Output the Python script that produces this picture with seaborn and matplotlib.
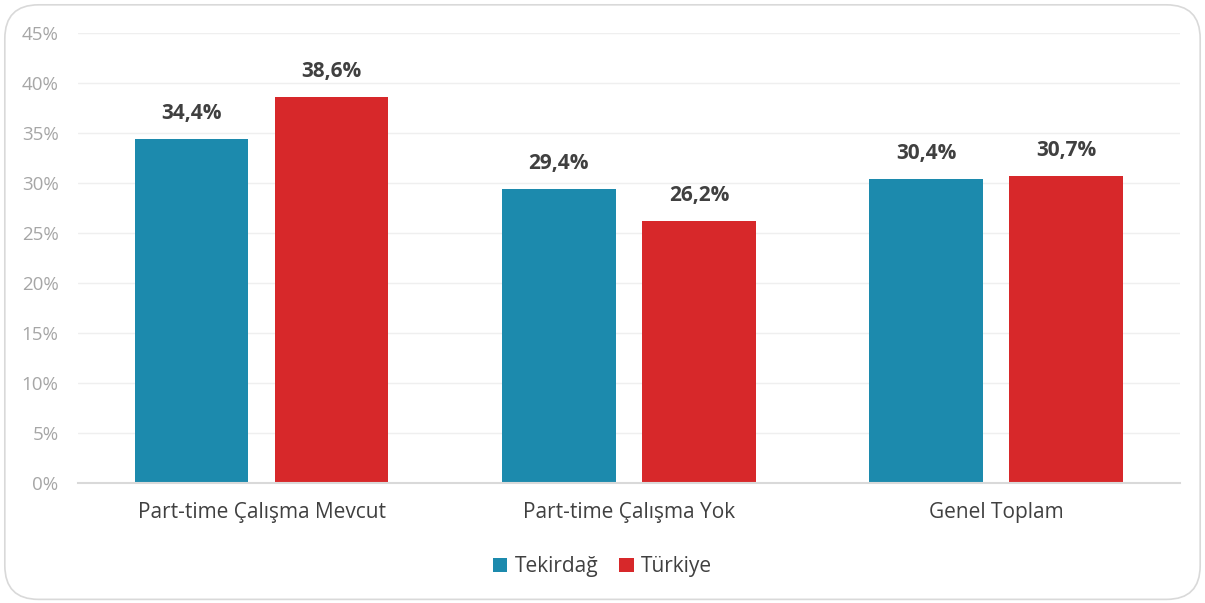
import matplotlib
matplotlib.use("Agg")
import matplotlib.pyplot as plt
from matplotlib.patches import FancyBboxPatch, Patch
import seaborn as sns
import pandas as pd

# data
categories = ["Part-time Çalışma Mevcut", "Part-time Çalışma Yok", "Genel Toplam"]
series_names = ["Tekirdağ", "Türkiye"]
tekirdag = [34.4, 29.4, 30.4]
turkiye = [38.6, 26.2, 30.7]
y_ticks = [0, 5, 10, 15, 20, 25, 30, 35, 40, 45]

colors = ["#1C8AAD", "#D7282A"]

df = pd.DataFrame({
    "Kategori": categories * 2,
    "Seri": [series_names[0]] * 3 + [series_names[1]] * 3,
    "Oran": tekirdag + turkiye,
})

sns.set_theme(style="white")
plt.rcParams["font.family"] = ["Open Sans", "DejaVu Sans"]

fig = plt.figure(figsize=(12.05, 6.03), dpi=100)
ax = fig.add_axes([0.0647, 0.199, 0.9143, 0.746])

sns.barplot(data=df, x="Kategori", y="Oran", hue="Seri", palette=colors,
            width=0.763, gap=0.19, ax=ax, legend=False, saturation=1,
            linewidth=0, edgecolor="none")

ax.set_ylim(0, 45)
ax.set_xlim(-0.5, 2.5)
ax.set_yticks(y_ticks)
ax.set_yticklabels([f"{t}%" for t in y_ticks], color="#A6A6A6", fontsize=13.5)
ax.tick_params(axis="y", length=0, pad=14)
ax.tick_params(axis="x", length=0, pad=14, labelsize=15, labelcolor="#404040")
ax.set_xlabel("")
ax.set_ylabel("")
ax.yaxis.grid(True, color="#EFEFEF", linewidth=1)
ax.set_axisbelow(True)
for side in ["top", "right", "left"]:
    ax.spines[side].set_visible(False)
ax.spines["bottom"].set_color("#D9D9D9")
ax.spines["bottom"].set_linewidth(1.5)

# value labels
for container in ax.containers:
    vals = [bar.get_height() for bar in container]
    ax.bar_label(container, labels=[f"{v:.1f}%".replace(".", ",") for v in vals],
                 padding=11, fontsize=15, fontweight="bold", color="#404040")

# legend at bottom
handles = [Patch(facecolor=c, edgecolor="none") for c in colors]
fig.legend(handles, series_names, loc="center", bbox_to_anchor=(0.5, 0.06),
           ncol=2, frameon=False, fontsize=15, handlelength=0.7, handleheight=0.7,
           columnspacing=1.0, handletextpad=0.35, labelcolor="#404040")

# rounded chart border
border = FancyBboxPatch((0.004, 0.006), 0.992, 0.986, transform=fig.transFigure,
                        boxstyle="round,pad=0,rounding_size=0.028",
                        facecolor="none", edgecolor="#D9D9D9", linewidth=1.2,
                        mutation_aspect=2.0)
fig.patches.append(border)

fig.savefig("out.png", dpi=100)
